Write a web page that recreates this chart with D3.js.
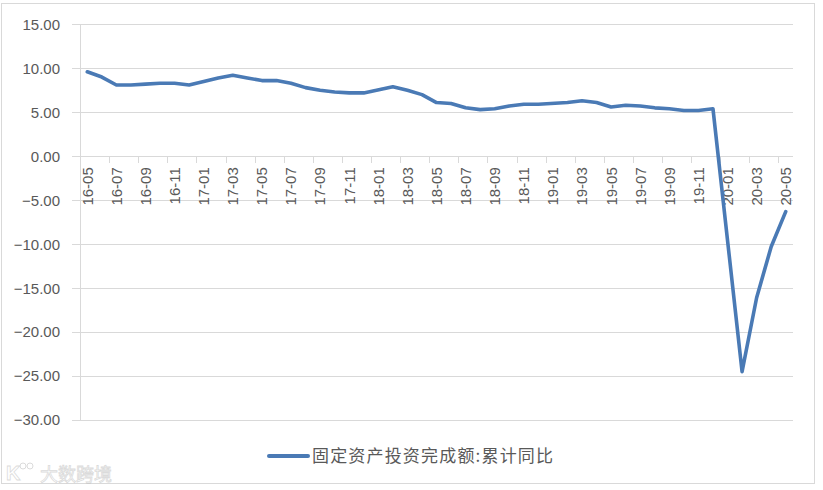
<!DOCTYPE html>
<meta charset="utf-8">
<style>
body { margin: 0; background: #fff; }
svg { display: block; font-family: "Liberation Sans", "Noto Sans CJK SC", sans-serif; }
.grid line { stroke: #d9d9d9; stroke-width: 1px; shape-rendering: crispEdges; }
.ylab text, .xlab text { fill: #595959; font-size: 15px; }
.line { fill: none; stroke: #4a7ab5; stroke-width: 3.6px; stroke-linejoin: round; stroke-linecap: round; }
.legend text { fill: #595959; font-size: 17px; font-family: "Noto Sans CJK SC", sans-serif; }
</style>
<body>
<script src="https://d3js.org/d3.v7.min.js"></script>
<script>

// month labels (yy-mm)
var months = [
  "16-05","16-06","16-07","16-08","16-09","16-10","16-11","16-12",
  "17-01","17-02","17-03","17-04","17-05","17-06","17-07","17-08","17-09","17-10","17-11","17-12",
  "18-01","18-02","18-03","18-04","18-05","18-06","18-07","18-08","18-09","18-10","18-11","18-12",
  "19-01","19-02","19-03","19-04","19-05","19-06","19-07","19-08","19-09","19-10","19-11","19-12",
  "20-01","20-02","20-03","20-04","20-05"
];

// 固定资产投资完成额:累计同比 (%), no January release -> null
var values = [
  9.6, 9.0, 8.1, 8.1, 8.2, 8.3, 8.3, 8.1,
  null, 8.9, 9.2, 8.9, 8.6, 8.6, 8.3, 7.8, 7.5, 7.3, 7.2, 7.2,
  null, 7.9, 7.5, 7.0, 6.1, 6.0, 5.5, 5.3, 5.4, 5.7, 5.9, 5.9,
  null, 6.1, 6.3, 6.1, 5.6, 5.8, 5.7, 5.5, 5.4, 5.2, 5.2, 5.4,
  null, -24.5, -16.1, -10.3, -6.3
];

var yTicks = [15, 10, 5, 0, -5, -10, -15, -20, -25, -30];
var seriesName = "固定资产投资完成额:累计同比";

var W = 823, H = 490;
var plot = {left: 80, right: 793, top: 24.3, bottom: 420};

var svg = d3.select("body").append("svg")
  .attr("width", W)
  .attr("height", H);

// outer frame
svg.append("rect")
  .attr("x", 1.5).attr("y", 3.5)
  .attr("width", 813).attr("height", 480)
  .attr("fill", "none")
  .attr("stroke", "#d9d9d9");

var x = d3.scaleBand()
  .domain(months)
  .range([plot.left, plot.right])
  .padding(0);

var y = d3.scaleLinear()
  .domain([-30, 15])
  .range([plot.bottom, plot.top]);

var fmt = d3.format(".2f");

// horizontal gridlines
svg.append("g").attr("class", "grid")
  .selectAll("line")
  .data(yTicks)
  .enter().append("line")
  .attr("x1", plot.left - 8)
  .attr("x2", plot.right)
  .attr("y1", function(d) { return Math.round(y(d)) + 0.5; })
  .attr("y2", function(d) { return Math.round(y(d)) + 0.5; });

// vertical axis line
svg.append("g").attr("class", "grid")
  .append("line")
  .attr("x1", plot.left + 0.5).attr("x2", plot.left + 0.5)
  .attr("y1", plot.top).attr("y2", plot.bottom);

// y labels
svg.append("g").attr("class", "ylab")
  .selectAll("text")
  .data(yTicks)
  .enter().append("text")
  .attr("x", 60)
  .attr("y", function(d) { return y(d); })
  .attr("dy", "0.36em")
  .attr("text-anchor", "end")
  .text(function(d) { return fmt(d); });

// x tick marks every 2 categories, on the zero line
var tickIdx = d3.range(0, months.length, 2);
svg.append("g").attr("class", "grid")
  .selectAll("line")
  .data(tickIdx)
  .enter().append("line")
  .attr("x1", function(i) { return Math.round(x(months[i])) + 0.5; })
  .attr("x2", function(i) { return Math.round(x(months[i])) + 0.5; })
  .attr("y1", y(0))
  .attr("y2", y(0) + 7);

// x labels, rotated
svg.append("g").attr("class", "xlab")
  .selectAll("text")
  .data(tickIdx)
  .enter().append("text")
  .attr("transform", function(i) {
    return "translate(" + (x(months[i]) + x.bandwidth() / 2) + "," + (y(0) + 11) + ") rotate(-90)";
  })
  .attr("dy", "0.36em")
  .attr("text-anchor", "end")
  .text(function(i) { return months[i]; });

// series line (months without data are skipped, joined straight)
var pts = months.map(function(m, i) { return {m: m, v: values[i]}; })
  .filter(function(d) { return d.v !== null; });

var line = d3.line()
  .x(function(d) { return x(d.m) + x.bandwidth() / 2; })
  .y(function(d) { return y(d.v); });

svg.append("path")
  .datum(pts)
  .attr("class", "line")
  .attr("d", line);

// legend
var lg = svg.append("g").attr("class", "legend");
lg.append("line")
  .attr("x1", 269).attr("x2", 308)
  .attr("y1", 456).attr("y2", 456)
  .attr("stroke", "#4a7ab5")
  .attr("stroke-width", 4)
  .attr("stroke-linecap", "round");
lg.append("text")
  .attr("x", 312)
  .attr("y", 462)
  .attr("textLength", 241)
  .attr("lengthAdjust", "spacing")
  .text(seriesName);

// watermark
var wm = svg.append("g").attr("opacity", 0.35);
wm.append("text")
  .attr("x", 6).attr("y", 480)
  .attr("font-size", 20)
  .attr("font-weight", "bold")
  .attr("fill", "#fff")
  .attr("stroke", "#999")
  .attr("stroke-width", 0.8)
  .text("K");
wm.append("circle").attr("cx", 23).attr("cy", 466).attr("r", 3).attr("fill", "none").attr("stroke", "#999");
wm.append("circle").attr("cx", 30).attr("cy", 466).attr("r", 3).attr("fill", "none").attr("stroke", "#999");
wm.append("text")
  .attr("x", 40).attr("y", 481)
  .attr("font-size", 18)
  .attr("font-family", "Noto Sans CJK SC")
  .attr("fill", "#fff")
  .attr("stroke", "#999")
  .attr("stroke-width", 0.8)
  .text("大数跨境");

</script>
